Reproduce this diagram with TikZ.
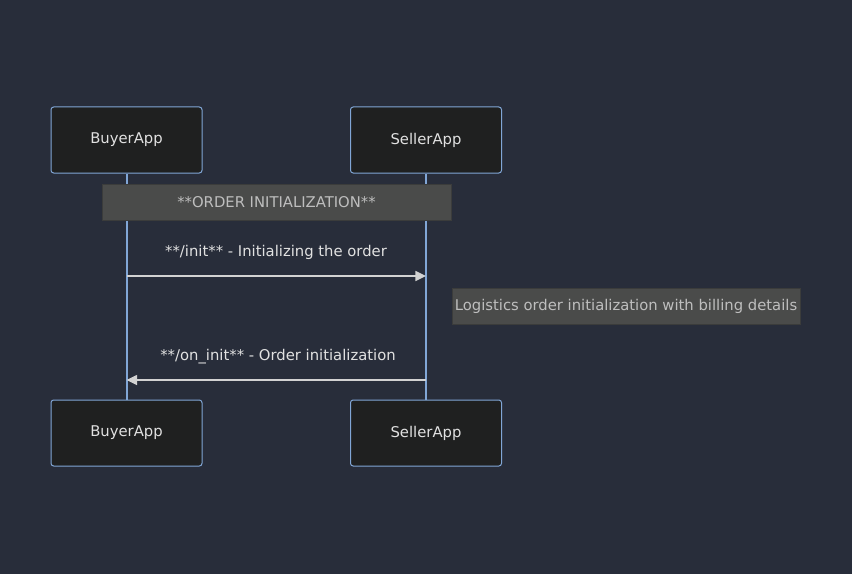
\documentclass[tikz,border=0pt]{standalone}
\usepackage{fontspec}
\setmainfont{DejaVu Sans}
\usepackage{tikz}
\usetikzlibrary{arrows.meta,positioning,shapes,calc}
\definecolor{bgnavy}{RGB}{40,45,58}
\definecolor{actorfill}{RGB}{31,32,32}
\definecolor{actorline}{RGB}{129,166,214}
\definecolor{notefill}{RGB}{74,75,74}
\definecolor{notetext}{RGB}{190,190,190}
\definecolor{msgline}{RGB}{210,210,210}
\definecolor{msgtext}{RGB}{225,225,225}
\tikzset{
    every node/.style={font=\fontsize{11.1}{13.3}\selectfont}
}

\begin{document}
\begin{tikzpicture}[
    x=0.75pt, y=-0.75pt,
    % Stili base
    actor/.style={rectangle, draw=actorline, fill=actorfill, line width=0.75pt, minimum width=113.25pt, minimum height=49.5pt, rounded corners=2pt, text=msgtext},
    note/.style={rectangle, fill=notefill, draw=notefill!80!black, line width=0.4pt, minimum height=27pt, inner sep=0pt, text=notetext},
    % Linee
    lifeline/.style={draw=actorline, line width=1.5pt},
    msg/.style={-{Triangle[length=8pt, width=7.5pt]}, draw=msgline, line width=1.1pt},
    % Testo
    msglabel/.style={text=msgtext}
]

% === SFONDO ===
\fill[bgnavy] (0,0) rectangle (852,574);
\useasboundingbox (0,0) rectangle (852,574);

% === ATTORI ===
\node[actor] (buyer_top) at (126.5,140) {\raisebox{-1pt}{BuyerApp}};
\node[actor] (seller_top) at (426,140) {\raisebox{-1pt}{SellerApp}};
\node[actor] (buyer_bot) at (126.5,433) {\raisebox{-1pt}{BuyerApp}};
\node[actor] (seller_bot) at (426,433) {\raisebox{-1pt}{SellerApp}};

% Linee di vita
\draw[lifeline] (buyer_top) -- (buyer_bot);
\draw[lifeline] (seller_top) -- (seller_bot);

% === NOTA SU ENTRAMBI ===
\node[note, minimum width=261.75pt] (order_note) at (276.5,202.5) {**ORDER INITIALIZATION**};

% === MESSAGGI ===
\coordinate (b_init) at (126.5,276);
\coordinate (s_init) at (426,276);
\coordinate (s_oninit) at (426,380);
\coordinate (b_oninit) at (126.5,380);

\node[msglabel] (init_lbl) at (276,252.5) {**/init** - Initializing the order};
\draw[msg] (b_init) -- (s_init);

% Nota a destra
\node[note, minimum width=261pt] (billing_note) at (626,306.5) {Logistics order initialization with billing details};

\node[msglabel] (oninit_lbl) at (278,356.5) {**/on\_init** - Order initialization};
\draw[msg] (s_oninit) -- (b_oninit);

\end{tikzpicture}
\end{document}
